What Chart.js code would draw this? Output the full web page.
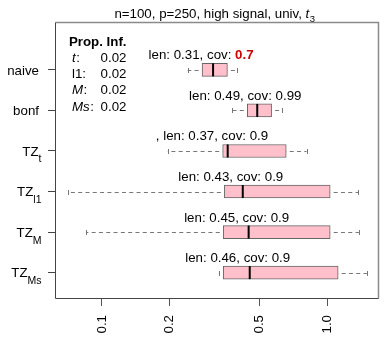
<!DOCTYPE html>
<html><head><meta charset="utf-8">
<script src="https://cdn.jsdelivr.net/npm/chart.js@4/dist/chart.umd.min.js"></script>
<style>html,body{margin:0;padding:0;background:#fff;}canvas{display:block;}</style>
</head><body>
<canvas id="c" width="388" height="347"></canvas>
<script>
// ---- data ----
const categories = ['naive', 'bonf', 'TZ_t', 'TZ_l1', 'TZ_M', 'TZ_Ms'];
const labelMain = ['naive', 'bonf', 'TZ', 'TZ', 'TZ', 'TZ'];
const labelSub = ['', '', 't', 'l1', 'M', 'Ms'];
const whiskerLow = [0.240, 0.376, 0.196, 0.0707, 0.0850, 0.330];
const q1 = [0.278, 0.441, 0.343, 0.349, 0.345, 0.345];
const median = [0.311, 0.488, 0.361, 0.421, 0.447, 0.452];
const q3 = [0.360, 0.565, 0.656, 1.027, 1.027, 1.114];
const whiskerHigh = [0.396, 0.630, 0.807, 1.366, 1.376, 1.493];
const lenValues = ['0.31', '0.49', '0.37', '0.43', '0.45', '0.46'];
const covValues = ['0.7', '0.99', '0.9', '0.9', '0.9', '0.9'];
const covLow = [true, false, false, false, false, false];
const annPrefix = ['', '', ', ', '', '', ''];
const xTicks = [0.1, 0.2, 0.5, 1.0];
const titleText = 'n=100, p=250, high signal, univ, ';
const titleVar = 't';
const titleSub = '3';
const propHeader = 'Prop. Inf.';
const propNames = ['t', 'l1', 'M', 'Ms'];
const propItalic = [true, false, true, true];
const propValues = ['0.02', '0.02', '0.02', '0.02'];

const FONT = "'Liberation Sans', Arial, Helvetica, sans-serif";
const FS = 13.3;
const positions = categories.map((_, i) => i + 1);

const boxPlugin = {
  id: 'boxExtras',
  beforeDatasetsDraw(chart) {
    const ctx = chart.ctx, xs = chart.scales.x, ys = chart.scales.y;
    ctx.save();
    ctx.strokeStyle = '#777';
    ctx.lineWidth = 1;
    positions.forEach((p, i) => {
      const y = Math.round(ys.getPixelForValue(p)) + 0.5;
      const lo = xs.getPixelForValue(whiskerLow[i]);
      const a = xs.getPixelForValue(q1[i]);
      const b = xs.getPixelForValue(q3[i]);
      const hi = xs.getPixelForValue(whiskerHigh[i]);
      ctx.setLineDash([4, 3.3]);
      ctx.lineDashOffset = -3.5;
      ctx.beginPath(); ctx.moveTo(a, y); ctx.lineTo(lo, y); ctx.stroke();
      ctx.beginPath(); ctx.moveTo(b, y); ctx.lineTo(hi, y); ctx.stroke();
      ctx.setLineDash([]);
      ctx.beginPath();
      ctx.moveTo(Math.round(lo) + 0.5, y - 2.5); ctx.lineTo(Math.round(lo) + 0.5, y + 2.5);
      ctx.moveTo(Math.round(hi) + 0.5, y - 2.5); ctx.lineTo(Math.round(hi) + 0.5, y + 2.5);
      ctx.stroke();
    });
    ctx.restore();
  },
  afterDatasetsDraw(chart) {
    const ctx = chart.ctx, xs = chart.scales.x, ys = chart.scales.y, ca = chart.chartArea;
    ctx.save();
    // medians
    ctx.strokeStyle = '#000';
    ctx.lineWidth = 2;
    positions.forEach((p, i) => {
      const y = ys.getPixelForValue(p);
      const m = xs.getPixelForValue(median[i]);
      ctx.beginPath(); ctx.moveTo(m, y - 6.5); ctx.lineTo(m, y + 6.5); ctx.stroke();
    });
    // annotations
    ctx.textBaseline = 'alphabetic';
    ctx.textAlign = 'left';
    positions.forEach((p, i) => {
      const y = ys.getPixelForValue(p) - 10.5;
      const m = xs.getPixelForValue(median[i]);
      const normal = `${FS}px ${FONT}`;
      const bold = `bold ${FS}px ${FONT}`;
      const pre = annPrefix[i];
      const main = `len: ${lenValues[i]}, cov: `;
      ctx.font = normal;
      const wPre = ctx.measureText(pre).width;
      const wMain = ctx.measureText(main).width;
      ctx.font = covLow[i] ? bold : normal;
      const wCov = ctx.measureText(covValues[i]).width;
      const start = m - 12 - (wMain + wCov) / 2;
      ctx.font = normal; ctx.fillStyle = '#000';
      ctx.fillText(pre, start - wPre, y);
      ctx.fillText(main, start, y);
      ctx.font = covLow[i] ? bold : normal;
      ctx.fillStyle = covLow[i] ? '#CD0000' : '#000';
      ctx.fillText(covValues[i], start + wMain, y);
    });
    // y labels
    ctx.fillStyle = '#000';
    positions.forEach((p, i) => {
      const y = ys.getPixelForValue(p);
      if (!labelSub[i]) {
        ctx.font = `${FS}px ${FONT}`;
        ctx.textAlign = 'right';
        ctx.fillText(labelMain[i], ca.left - 16, y + 4.8);
      } else {
        ctx.textAlign = 'left';
        ctx.font = `10.5px ${FONT}`;
        const ws = ctx.measureText(labelSub[i]).width;
        ctx.font = `${FS}px ${FONT}`;
        const wm = ctx.measureText(labelMain[i]).width;
        const right = ca.left - 13.5;
        const x0 = right - ws - wm;
        ctx.fillText(labelMain[i], x0, y + 4.8);
        ctx.font = `10.5px ${FONT}`;
        ctx.fillText(labelSub[i], x0 + wm, y + 11.5);
      }
    });
    // title
    ctx.textAlign = 'left';
    ctx.font = `${FS}px ${FONT}`;
    const w1 = ctx.measureText(titleText).width;
    ctx.font = `italic ${FS}px ${FONT}`;
    const w2 = ctx.measureText(titleVar).width;
    ctx.font = `9.5px ${FONT}`;
    const w3 = ctx.measureText(titleSub).width;
    const tx = (ca.left + ca.right) / 2 - 2.5 - (w1 + w2 + w3) / 2;
    ctx.font = `${FS}px ${FONT}`;
    ctx.fillText(titleText, tx, ca.top - 4.5);
    ctx.font = `italic ${FS}px ${FONT}`;
    ctx.fillText(titleVar, tx + w1, ca.top - 4.5);
    ctx.font = `9.5px ${FONT}`;
    ctx.fillText(titleSub, tx + w1 + w2 + 0.5, ca.top - 0.5);
    // legend text block
    const valRight = ca.left + 71.5;
    const nameLeft = ca.left + 17;
    ctx.font = `bold ${FS}px ${FONT}`;
    ctx.textAlign = 'right';
    ctx.fillText(propHeader, valRight, ca.top + 23.5);
    propNames.forEach((n, k) => {
      const by = ca.top + 23.5 + 16.3 * (k + 1);
      ctx.textAlign = 'left';
      ctx.font = (propItalic[k] ? 'italic ' : '') + `${FS}px ${FONT}`;
      ctx.fillText(n, nameLeft, by);
      const wn = ctx.measureText(n).width;
      ctx.font = `${FS}px ${FONT}`;
      ctx.fillText(':', nameLeft + wn + (propItalic[k] ? 0.5 : 0), by);
      ctx.textAlign = 'right';
      ctx.fillText(propValues[k], valRight, by);
    });
    // frame
    const L = Math.round(ca.left) + 0.5, R = Math.round(ca.right) - 0.5;
    const T = Math.round(ca.top) + 0.5, B = Math.round(ca.bottom) - 0.5;
    ctx.lineWidth = 1.5;
    ctx.strokeStyle = '#8a8a8a';
    ctx.beginPath(); ctx.moveTo(L, T); ctx.lineTo(R, T); ctx.lineTo(R, B); ctx.stroke();
    ctx.lineWidth = 1;
    ctx.strokeStyle = '#444';
    ctx.beginPath(); ctx.moveTo(L, T); ctx.lineTo(L, B); ctx.lineTo(R, B); ctx.stroke();
    ctx.restore();
  }
};

new Chart(document.getElementById('c'), {
  type: 'bar',
  data: {
    datasets: [{
      data: positions.map((p, i) => ({ y: p, x: [q1[i], q3[i]] })),
      backgroundColor: '#FFC0CB',
      borderColor: '#666',
      borderWidth: 1,
      borderSkipped: false,
      barThickness: 13
    }]
  },
  options: {
    indexAxis: 'y',
    responsive: false,
    animation: false,
    devicePixelRatio: 1,
    layout: { padding: { top: 22, right: 9, left: 0, bottom: 0 } },
    plugins: { legend: { display: false }, tooltip: { enabled: false }, title: { display: false } },
    scales: {
      x: {
        type: 'logarithmic',
        min: 0.062, max: 1.69,
        offset: false,
        afterBuildTicks: s => { s.ticks = xTicks.map(v => ({ value: v })); },
        afterFit: s => { s.height = 48; },
        border: { display: false },
        grid: { drawOnChartArea: false, drawTicks: true, tickLength: 7, color: '#555' },
        ticks: {
          minRotation: 90, maxRotation: 90, padding: 9,
          color: '#000', font: { family: FONT, size: FS },
          callback: v => Number(v).toFixed(1)
        }
      },
      y: {
        type: 'linear',
        reverse: true,
        offset: false,
        min: -0.18, max: 6.65,
        afterBuildTicks: s => { s.ticks = positions.map(v => ({ value: v })); },
        afterFit: s => { s.width = 55; },
        border: { display: false },
        grid: { drawOnChartArea: false, drawTicks: true, tickLength: 7, color: '#444', offset: false },
        ticks: { display: false }
      }
    }
  },
  plugins: [boxPlugin]
});
</script>
</body></html>
